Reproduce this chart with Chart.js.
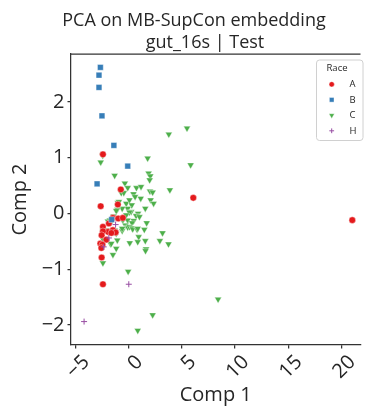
<!DOCTYPE html>
<html lang="en">
<head>
  <meta charset="UTF-8">
  <title>PCA on MB-SupCon embedding</title>
  <script src="https://cdn.jsdelivr.net/npm/chart.js"></script>
  <style>
    body { margin: 0; background: #fff; }
    #pcaChart { display: block; }
  </style>
</head>
<body>
  <canvas id="pcaChart" width="365" height="407"></canvas>

  <script>
    // Chart text
    const titleLines = ['PCA on MB-SupCon embedding', 'gut_16s | Test'];
    const xTitle = 'Comp 1';
    const yTitle = 'Comp 2';
    const legendTitle = 'Race';
    const raceLabels = ['A', 'B', 'C', 'H'];

    // Axis ticks
    const xTicks = [-5, 0, 5, 10, 15, 20];
    const yTicks = [-2, -1, 0, 1, 2];

    // Projected samples, [comp1, comp2]
    const raceA = [
      [-2.40, 1.06], [-0.72, 0.43], [6.09, 0.28], [21.03, -0.12], [-2.61, 0.13],
      [-2.40, -1.27], [-2.52, -0.79], [-1.00, 0.16], [-1.46, -0.08], [-0.96, -0.09],
      [-0.53, -0.08], [-2.40, -0.24], [-1.84, -0.18], [-1.93, -0.33], [-1.46, -0.30],
      [-1.21, -0.34], [-2.40, -0.32], [-2.52, -0.39], [-2.08, -0.47], [-2.64, -0.54],
      [-2.45, -0.56], [-2.55, -0.62], [-1.61, -0.35]
    ];
    const raceB = [
      [-2.64, 2.62], [-2.77, 2.48], [-2.77, 2.26], [-2.49, 1.75],
      [-1.37, 1.22], [-0.07, 0.85], [-2.95, 0.53], [-1.58, -0.11]
    ];
    const raceC = [
      [5.50, 1.53], [3.79, 1.42], [-2.42, 1.04], [-2.61, 0.92], [1.80, 0.99], [5.84, 0.87],
      [-1.30, 0.68], [1.89, 0.72], [2.05, 0.67], [1.99, 0.60], [-0.34, 0.54], [-0.07, 0.46],
      [0.75, 0.46], [1.18, 0.48], [3.89, 0.42], [2.02, 0.40], [2.27, 0.38], [-0.68, 0.37],
      [-0.44, 0.37], [0.47, 0.35], [0.62, 0.30], [1.15, 0.27], [2.08, 0.24], [2.36, 0.18],
      [-1.00, 0.19], [-0.90, 0.21], [-0.21, 0.18], [0.09, 0.24], [0.31, 0.15], [-0.07, 0.09],
      [-0.59, 0.09], [1.58, 0.09], [-1.05, 0.07], [-1.15, 0.05], [0.25, 0.03], [0.09, 0.02],
      [0.90, 0.00], [-0.21, -0.03], [0.72, -0.04], [1.03, -0.06], [-0.59, -0.09], [-0.53, -0.12],
      [-0.07, -0.12], [0.49, -0.13], [1.71, -0.17], [0.34, -0.17], [-1.93, -0.14], [-1.61, -0.15],
      [-1.75, -0.12], [-1.40, -0.05], [-0.28, -0.21], [-0.07, -0.25], [0.09, -0.24], [0.34, -0.26],
      [0.40, -0.28], [0.81, -0.29], [0.87, -0.27], [1.49, -0.29], [-0.59, -0.31], [-0.59, -0.27],
      [-1.30, -0.30], [-1.15, -0.36], [3.20, -0.35], [-2.40, -0.31], [-2.08, -0.30], [-2.40, -0.46],
      [-1.05, -0.48], [0.96, -0.42], [1.58, -0.49], [2.95, -0.49], [3.76, -0.55], [0.87, -0.51],
      [0.12, -0.53], [-1.68, -0.55], [-1.61, -0.54], [1.65, -0.64], [1.60, -0.67], [-1.15, -0.63],
      [-1.46, -0.74], [-2.40, -0.89], [-0.03, -1.04], [2.27, -1.82], [0.87, -2.10], [8.42, -1.54]
    ];
    const raceH = [
      [-4.17, -1.94], [0.03, -1.27], [-1.21, -0.20], [-1.84, -0.44], [-2.33, -0.60]
    ];

    const FONT = '"Open Sans", "DejaVu Sans", sans-serif';
    const INK = '#262626';
    const SPINE = '#333333';

    // marker look per race: colour, shape, size
    const markers = [
      { color: '#e41a1c', style: 'circle',   radius: 3.3, rotation: 0,   border: '#ffffff', bw: 0.4, order: 3 },
      { color: '#377eb8', style: 'rect',     radius: 4.1, rotation: 0,   border: '#ffffff', bw: 0.4, order: 2 },
      { color: '#4daf4a', style: 'triangle', radius: 4.0, rotation: 180, border: '#ffffff', bw: 0.4, order: 4 },
      { color: '#984ea3', style: 'cross',    radius: 3.0, rotation: 0,   border: '#984ea3', bw: 1.0, order: 1 }
    ];
    const seriesData = [raceA, raceB, raceC, raceH];

    const minus = v => String(v).replace('-', '\u2212');

    // title, top spine and the boxed legend
    const decorations = {
      id: 'decorations',
      afterDraw(chart) {
        const { ctx, chartArea: a } = chart;
        ctx.save();

        ctx.strokeStyle = SPINE;
        ctx.lineWidth = 1.25;
        ctx.beginPath();
        ctx.moveTo(a.left, a.top);
        ctx.lineTo(a.right, a.top);
        ctx.stroke();

        ctx.fillStyle = INK;
        ctx.font = '18px ' + FONT;
        ctx.textAlign = 'center';
        ctx.textBaseline = 'alphabetic';
        ctx.fillText(titleLines[0], 194, 26);
        ctx.fillText(titleLines[1], 205, 48);

        // legend frame
        const bx = 316.5, by = 60, bw = 46.5, bh = 80.5;
        ctx.beginPath();
        ctx.roundRect(bx, by, bw, bh, 3);
        ctx.fillStyle = 'rgba(255,255,255,0.8)';
        ctx.fill();
        ctx.strokeStyle = '#d0d0d0';
        ctx.lineWidth = 1;
        ctx.stroke();

        ctx.fillStyle = INK;
        ctx.font = '9.5px ' + FONT;
        ctx.textAlign = 'center';
        ctx.textBaseline = 'middle';
        ctx.fillText(legendTitle, 337, 68);

        chart.data.datasets.forEach((ds, i) => {
          const m = markers[i];
          const y = 84.3 + i * 15.5;
          ctx.fillStyle = m.color;
          ctx.strokeStyle = m.border;
          ctx.lineWidth = m.bw;
          Chart.helpers.drawPoint(ctx, {
            pointStyle: m.style, radius: m.radius * 0.8, rotation: m.rotation, borderWidth: m.bw
          }, 331.7, y);
          ctx.fillStyle = INK;
          ctx.textAlign = 'left';
          ctx.fillText(ds.label, 349.5, y);
        });
        ctx.restore();
      }
    };

    new Chart(document.getElementById('pcaChart'), {
      type: 'scatter',
      data: {
        datasets: raceLabels.map((label, i) => ({
          label: label,
          data: seriesData[i],
          order: markers[i].order,
          backgroundColor: markers[i].color,
          borderColor: markers[i].border,
          borderWidth: markers[i].bw,
          pointStyle: markers[i].style,
          pointRadius: markers[i].radius,
          pointRotation: markers[i].rotation,
          pointHoverRadius: markers[i].radius
        }))
      },
      options: {
        responsive: false,
        animation: false,
        layout: { padding: { top: 54, right: 0, bottom: 0, left: 0 } },
        plugins: {
          legend: { display: false },
          title: { display: false },
          tooltip: { enabled: false }
        },
        scales: {
          x: {
            type: 'linear',
            min: -5.4,
            max: 21.8,
            afterBuildTicks: scale => { scale.ticks = xTicks.map(v => ({ value: v })); },
            afterFit: scale => { scale.height = 62; },
            border: { display: true, color: SPINE, width: 1.25 },
            grid: { display: true, drawOnChartArea: false, drawTicks: true, tickLength: 3.5, color: SPINE, lineWidth: 1.25 },
            ticks: {
              color: INK,
              font: { family: FONT, size: 20 },
              minRotation: 45,
              maxRotation: 45,
              padding: 2,
              labelOffset: 11,
              callback: v => minus(v)
            },
            title: {
              display: true,
              text: xTitle,
              color: INK,
              font: { family: FONT, size: 20 },
              padding: { top: 0, bottom: 0 }
            }
          },
          y: {
            type: 'linear',
            min: -2.36,
            max: 2.86,
            afterBuildTicks: scale => { scale.ticks = yTicks.map(v => ({ value: v })); },
            afterFit: scale => { scale.width = 71; },
            border: { display: true, color: SPINE, width: 1.25 },
            grid: { display: true, drawOnChartArea: false, drawTicks: true, tickLength: 3.5, color: SPINE, lineWidth: 1.25 },
            ticks: {
              color: INK,
              font: { family: FONT, size: 20 },
              padding: 3,
              callback: v => minus(v)
            },
            title: {
              display: true,
              text: yTitle,
              color: INK,
              font: { family: FONT, size: 20 },
              padding: { top: 8, bottom: 0 }
            }
          }
        }
      },
      plugins: [decorations]
    });
  </script>
</body>
</html>
